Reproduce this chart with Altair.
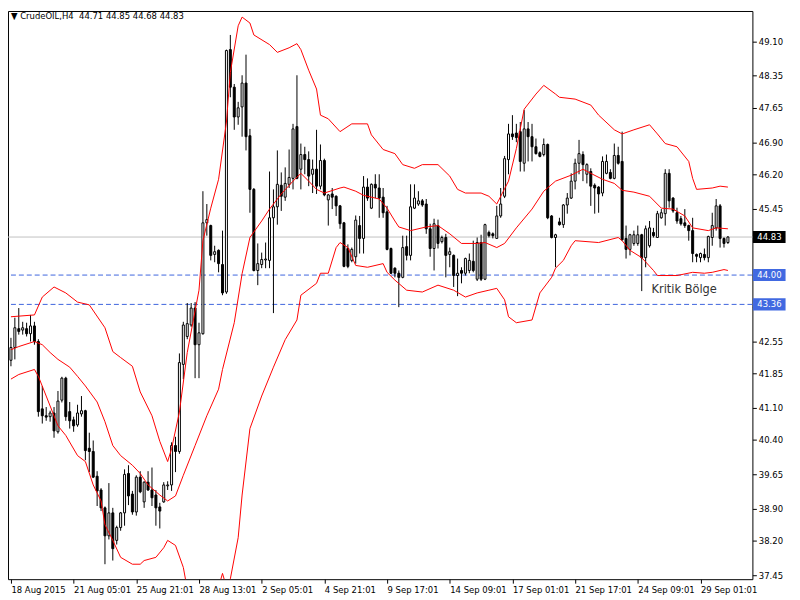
import altair as alt
import pandas as pd

# ---------------- data ----------------
opens = [42.14, 42.42, 42.83, 42.80, 42.83, 42.72, 42.89, 42.55, 41.08, 40.93,
         40.91, 40.99, 40.58, 41.27, 41.75, 41.02, 40.84, 40.73, 40.97, 41.04,
         40.22, 40.15, 39.61, 39.31, 38.92, 38.31, 38.81, 38.21, 38.49, 38.81,
         39.67, 39.22, 38.83, 39.59, 39.05, 39.48, 39.31, 39.20, 38.94, 39.05,
         39.40, 39.42, 40.28, 40.15, 42.05, 42.66, 42.91, 43.28, 42.48, 42.72,
         45.14, 45.08, 44.45, 44.54, 44.23, 43.63, 48.92, 48.10, 47.45, 47.67,
         48.19, 47.04, 45.87, 44.10, 44.23, 44.33, 44.32, 45.25, 45.49, 45.96,
         45.70, 45.98, 46.11, 47.24, 46.31, 46.63, 46.52, 46.20, 46.31, 45.94,
         46.50, 45.64, 45.77, 45.72, 45.51, 45.14, 44.58, 44.32, 44.40, 45.08,
         44.80, 45.92, 45.46, 45.98, 45.90, 45.70, 45.38, 44.58, 44.15, 44.04,
         43.95, 44.62, 44.43, 45.46, 45.55, 45.62, 45.55, 45.01, 44.58, 45.08,
         44.73, 44.82, 44.45, 44.43, 43.99, 44.10, 44.04, 44.10, 44.30, 43.91,
         44.71, 43.91, 44.93, 44.90, 44.80, 45.29, 45.72, 46.52, 47.08, 47.10,
         47.13, 46.44, 47.19, 47.02, 46.80, 46.67, 46.63, 46.85, 45.29, 44.82,
         45.16, 45.10, 45.53, 45.68, 46.05, 46.44, 46.63, 46.20, 46.26, 45.96,
         45.92, 45.79, 46.22, 46.24, 46.11, 46.61, 46.48, 44.80, 44.56, 44.69,
         44.69, 44.88, 44.38, 44.64, 44.93, 44.82, 45.25, 45.34, 46.22, 45.68,
         45.36, 45.23, 45.14, 45.08, 44.97, 44.45, 44.38, 44.45, 44.38, 44.82,
         45.03, 45.51, 44.80, 44.71]
highs = [42.63, 43.07, 43.28, 42.98, 42.96, 43.13, 42.98, 42.60, 41.58, 41.12,
         41.04, 41.12, 41.47, 41.78, 41.78, 41.23, 40.91, 41.17, 41.36, 41.06,
         40.56, 40.39, 39.72, 39.35, 38.95, 39.46, 38.92, 38.53, 38.83, 39.76,
         39.85, 39.29, 39.63, 39.72, 39.50, 39.72, 39.80, 39.31, 39.03, 39.48,
         39.50, 40.35, 40.47, 42.29, 42.98, 43.39, 43.39, 43.41, 42.96, 45.83,
         45.55, 45.10, 44.64, 44.56, 44.97, 48.92, 49.24, 48.17, 47.78, 48.36,
         48.81, 47.19, 45.90, 44.69, 44.49, 44.71, 46.26, 45.87, 46.72, 46.24,
         46.35, 46.74, 47.30, 48.36, 46.87, 46.80, 46.70, 46.52, 47.17, 46.85,
         46.54, 45.77, 45.90, 45.74, 45.53, 45.16, 44.67, 44.60, 45.30, 45.29,
         46.16, 46.11, 46.00, 46.20, 46.20, 45.90, 45.51, 44.60, 44.17, 44.10,
         44.86, 44.86, 45.98, 45.98, 45.83, 45.66, 45.66, 45.12, 45.23, 45.21,
         44.86, 44.90, 44.60, 44.45, 44.36, 44.17, 44.38, 44.47, 44.75, 44.82,
         44.88, 45.12, 44.97, 44.93, 45.51, 45.90, 46.60, 47.30, 47.49, 47.30,
         47.34, 47.60, 47.34, 47.30, 46.98, 46.70, 46.98, 46.87, 45.31, 44.90,
         45.25, 45.55, 45.79, 46.22, 46.54, 46.95, 46.70, 46.44, 46.33, 46.00,
         45.94, 46.59, 46.63, 46.31, 46.87, 46.80, 47.13, 45.08, 44.90, 44.97,
         45.08, 44.90, 45.08, 45.18, 45.03, 45.40, 45.44, 46.31, 46.31, 45.70,
         45.47, 45.29, 45.44, 45.10, 45.25, 44.47, 44.49, 44.58, 44.86, 45.36,
         45.66, 45.55, 44.82, 44.85]
lows = [42.01, 42.16, 42.70, 42.70, 42.66, 42.55, 42.48, 40.91, 40.76, 40.82,
        40.80, 40.45, 40.54, 41.22, 40.82, 40.65, 40.58, 40.69, 40.91, 39.96,
        39.70, 39.57, 38.96, 38.85, 37.69, 38.23, 37.77, 38.12, 38.42, 38.53,
        38.98, 38.77, 38.75, 39.24, 38.92, 39.29, 38.96, 38.53, 38.47, 39.03,
        39.31, 39.29, 39.70, 40.10, 41.73, 42.60, 42.87, 41.75, 41.75, 42.70,
        44.86, 44.32, 44.28, 44.06, 43.56, 43.59, 47.88, 47.17, 47.28, 47.02,
        46.72, 45.36, 44.08, 43.78, 44.15, 44.15, 44.15, 43.17, 45.10, 45.40,
        45.62, 45.90, 45.87, 46.09, 45.87, 46.20, 45.94, 45.79, 45.77, 45.87,
        45.72, 45.08, 45.44, 45.29, 45.01, 44.17, 44.15, 44.28, 44.25, 44.47,
        44.47, 45.62, 45.44, 45.68, 45.25, 45.25, 44.54, 44.02, 43.95, 43.30,
        43.93, 44.32, 44.32, 45.44, 45.51, 45.49, 44.90, 44.40, 44.10, 44.58,
        44.69, 43.95, 44.17, 43.74, 43.54, 43.82, 43.99, 44.04, 44.06, 43.87,
        43.87, 43.89, 44.82, 44.80, 44.80, 45.25, 45.68, 46.20, 46.95, 46.90,
        46.26, 46.26, 46.48, 46.48, 46.63, 46.57, 46.59, 45.22, 44.80, 44.17,
        45.08, 45.03, 45.34, 45.66, 45.87, 46.20, 46.05, 46.00, 45.51, 45.34,
        45.36, 45.72, 46.20, 46.09, 46.09, 46.41, 44.75, 44.36, 44.43, 44.64,
        44.64, 43.65, 44.17, 44.60, 44.82, 44.82, 45.23, 45.08, 45.47, 45.36,
        45.12, 45.08, 45.03, 44.75, 44.28, 44.28, 44.28, 44.32, 44.28, 44.64,
        44.97, 44.60, 44.60, 44.68]
closes = [42.42, 42.85, 42.77, 42.85, 42.72, 42.89, 42.55, 41.02, 40.93, 40.90,
          40.99, 40.60, 41.25, 41.75, 40.91, 40.82, 40.71, 40.99, 41.04, 40.17,
          40.15, 39.59, 39.29, 38.92, 38.31, 38.81, 38.03, 38.49, 38.81, 39.65,
          39.18, 38.83, 39.59, 39.27, 39.48, 39.31, 39.14, 38.92, 38.85, 39.42,
          39.42, 40.28, 40.15, 42.09, 42.91, 42.94, 43.28, 42.48, 42.74, 45.14,
          45.21, 44.43, 44.51, 44.25, 43.61, 48.90, 48.10, 47.45, 47.65, 48.19,
          47.02, 45.87, 44.10, 44.25, 44.34, 44.35, 45.25, 45.49, 45.98, 45.72,
          46.00, 46.13, 47.19, 46.11, 46.63, 46.52, 46.16, 46.31, 45.94, 46.50,
          45.75, 45.75, 45.70, 45.51, 45.12, 44.19, 44.19, 44.56, 45.20, 44.80,
          45.92, 45.68, 45.98, 45.90, 45.68, 45.36, 44.56, 44.04, 44.04, 43.95,
          44.60, 44.43, 45.49, 45.68, 45.62, 45.53, 45.01, 44.58, 45.12, 44.69,
          44.82, 44.43, 44.51, 43.99, 44.04, 44.04, 44.36, 44.32, 44.10, 44.71,
          43.91, 45.10, 44.86, 44.86, 45.29, 45.55, 46.54, 47.08, 47.02, 47.00,
          46.48, 47.19, 47.02, 46.80, 46.65, 46.59, 46.85, 45.25, 44.82, 44.88,
          45.10, 45.53, 45.68, 46.05, 46.44, 46.65, 46.41, 46.41, 45.94, 45.90,
          45.77, 46.48, 46.48, 46.11, 46.61, 46.44, 44.77, 44.56, 44.88, 44.88,
          44.88, 44.38, 45.01, 45.03, 44.86, 45.34, 45.36, 46.22, 45.62, 45.40,
          45.18, 45.12, 45.08, 44.97, 44.47, 44.41, 44.47, 44.38, 44.84, 45.08,
          45.51, 44.80, 44.69, 44.83]

upper_idx = [0, 6, 8, 11, 14, 17, 20, 24, 26, 28, 31, 33, 36, 38, 40, 41, 43, 45, 48, 49,
             51, 53, 55, 56, 58, 59, 61, 62, 66, 68, 71, 73, 74, 76, 78, 79, 81, 84, 87, 91,
             92, 95, 98, 100, 103, 105, 109, 112, 114, 116, 120, 122, 124, 127, 129, 131, 134, 136, 139, 140,
             144, 148, 150, 154, 156, 159, 163, 165, 167, 170, 173, 174, 175, 179, 181, 183]
upper_val = [43.09, 43.13, 43.52, 43.74, 43.61, 43.41, 43.35, 42.85, 42.33, 42.20,
             42.01, 41.45, 40.93, 40.37, 39.93, 40.21, 41.01, 42.31, 43.67, 44.75,
             45.46, 46.09, 47.34, 48.42, 49.44, 49.63, 49.50, 49.24, 49.03, 48.86,
             48.96, 49.05, 48.92, 48.47, 48.06, 47.49, 47.41, 47.13, 47.30, 47.30,
             47.06, 46.74, 46.65, 46.41, 46.33, 46.41, 46.41, 46.16, 45.87, 45.79,
             45.79, 45.72, 45.55, 46.05, 46.76, 47.62, 47.95, 48.14, 47.95, 47.88,
             47.84, 47.71, 47.49, 47.17, 47.08, 47.17, 47.28, 47.08, 46.87, 46.80,
             46.48, 46.11, 45.87, 45.90, 45.94, 45.92]

middle_idx = [0, 2, 6, 8, 10, 12, 15, 17, 19, 22, 24, 26, 28, 31, 33, 35, 38, 40, 42, 44,
              47, 50, 53, 54, 57, 59, 61, 64, 66, 69, 72, 74, 76, 78, 80, 84, 85, 88, 90, 94,
              96, 98, 99, 102, 106, 109, 112, 115, 119, 121, 124, 126, 129, 133, 136, 139, 143, 146, 148, 151,
              154, 156, 159, 163, 166, 169, 172, 174, 178, 180, 183]
middle_val = [42.37, 42.44, 42.55, 42.48, 42.31, 42.16, 41.99, 41.79, 41.58, 41.23,
              40.80, 40.28, 40.06, 39.85, 39.67, 39.42, 39.20, 39.07, 39.18, 39.63,
              40.28, 40.93, 41.51, 41.94, 42.96, 44.03, 44.82, 45.18, 45.44, 45.77,
              46.05, 46.22, 46.05, 45.87, 45.79, 45.90, 45.92, 45.83, 45.74, 45.66,
              45.46, 45.18, 45.05, 44.97, 45.05, 45.08, 44.90, 44.69, 44.69, 44.71,
              44.60, 44.69, 45.03, 45.44, 45.83, 46.05, 46.18, 46.31, 46.22, 46.09,
              46.00, 45.85, 45.81, 45.72, 45.46, 45.44, 45.29, 45.03, 44.97, 45.03,
              45.01]

lower_idx = [0, 2, 6, 7, 9, 12, 14, 17, 19, 21, 23, 24, 26, 28, 31, 33, 34, 37, 39, 40,
             42, 44, 45, 48, 51, 53, 54, 55, 56, 58, 59, 61, 64, 67, 70, 73, 74, 78, 79, 81,
             83, 84, 86, 88, 91, 95, 96, 98, 101, 105, 109, 113, 116, 119, 122, 124, 126, 127, 129, 133,
             135, 138, 139, 141, 143, 144, 150, 155, 156, 158, 161, 164, 165, 170, 174, 177, 179, 182, 183]
lower_val = [41.73, 41.83, 41.94, 41.79, 41.36, 40.71, 40.50, 40.06, 39.93, 39.42,
             39.07, 38.55, 38.21, 37.84, 37.69, 37.69, 37.77, 37.84, 38.05, 38.21,
             38.10, 37.62, 37.15, 36.65, 36.76, 37.19, 37.49, 37.19, 37.37, 38.27,
             39.20, 40.65, 41.36, 41.99, 42.59, 43.02, 43.56, 43.82, 44.04, 44.04,
             44.60, 44.71, 44.60, 44.21, 44.17, 44.25, 44.06, 43.89, 43.67, 43.63,
             43.78, 43.67, 43.52, 43.61, 43.67, 43.71, 43.46, 43.09, 42.96, 43.02,
             43.61, 43.95, 44.15, 44.32, 44.64, 44.75, 44.71, 44.82, 44.75, 44.54,
             44.38, 44.10, 43.99, 43.99, 44.06, 44.04, 44.06, 44.12, 44.10]

xtick_idx = [0, 16, 32, 48, 64, 80, 96, 112, 128, 144, 160, 176]
xtick_labels = ["18 Aug 2015", "21 Aug 05:01", "25 Aug 21:01", "28 Aug 13:01",
                "2 Sep 05:01", "4 Sep 21:01", "9 Sep 17:01", "14 Sep 09:01",
                "17 Sep 01:01", "21 Sep 17:01", "24 Sep 09:01", "29 Sep 01:01"]
ytick_vals = [49.85, 49.10, 48.35, 47.65, 46.90, 46.20, 45.45, 44.75, 44.00, 43.30,
              42.55, 41.85, 41.10, 40.40, 39.65, 38.90, 38.20, 37.45]
ytick_covered = [44.75, 44.00, 43.30]   # labels hidden under the price boxes

bid_price = [44.83]
level_prices = [44.00, 43.36]
title_text = "\u25BC CrudeOIL,H4\u00a0\u00a044.71 44.85 44.68 44.83"
zone_label = ["Kritik Bölge"]
zone_pos = [163.5]
zone_price = [43.67]

# ---------------- tables ----------------
n = len(opens)
candles = pd.DataFrame({"i": list(range(n)), "o": opens, "h": highs, "l": lows, "c": closes})
bands = pd.concat([
    pd.DataFrame({"band": "upper", "i": upper_idx, "v": upper_val}),
    pd.DataFrame({"band": "middle", "i": middle_idx, "v": middle_val}),
    pd.DataFrame({"band": "lower", "i": lower_idx, "v": lower_val}),
], ignore_index=True)
boxes = pd.DataFrame({
    "p": bid_price + level_prices,
    "lbl": ["%.2f" % v for v in bid_price + level_prices],
    "col": ["black", "#4169E1", "#4169E1"],
})

FONT = "DejaVu Sans Condensed"
W, H = 752, 574
xs = alt.Scale(domain=[-0.75, 189.25], nice=False, zero=False, padding=0)
ys = alt.Scale(domain=[37.363, 49.763], nice=False, zero=False, padding=0)

labels_js = "[" + ",".join("'%s'" % s for s in xtick_labels) + "]"
idx_js = "[" + ",".join(str(v) for v in xtick_idx) + "]"
cov_js = "[" + ",".join("%.2f" % v for v in ytick_covered) + "]"
xaxis = alt.Axis(values=xtick_idx, labelExpr=f"{labels_js}[indexof({idx_js}, datum.value)]",
                 orient="bottom", title=None, grid=False, domain=False, ticks=True,
                 tickSize=4, tickColor="black", labelAlign="left", labelBaseline="top",
                 labelPadding=1, labelFlush=False, labelOverlap=False, labelBound=False,
                 labelFont=FONT, labelFontSize=9.5, labelColor="black")
yaxis = alt.Axis(values=ytick_vals,
                 labelExpr=f"indexof({cov_js}, round(datum.value*100)/100) >= 0 ? '' : format(datum.value, '.2f')",
                 orient="right", title=None, grid=False,
                 domain=False, ticks=True, tickSize=4, tickColor="black", labelPadding=2,
                 labelFlush=False, labelOverlap=False, labelFont=FONT, labelFontSize=9.5,
                 labelColor="black", labelBaseline="middle", labelAlign="left")


def X(f):
    return alt.X(f, type="quantitative", scale=xs, axis=xaxis)


def Y(f):
    return alt.Y(f, type="quantitative", scale=ys, axis=yaxis)


bid_line = alt.Chart(pd.DataFrame({"p": bid_price})).mark_rule(
    color="#C0C0C0", strokeWidth=1).encode(y=Y("p"))
level_lines = alt.Chart(pd.DataFrame({"p": level_prices})).mark_rule(
    color="#3E64DE", strokeWidth=1, strokeDash=[5, 3]).encode(y=Y("p"))

wicks = alt.Chart(candles).mark_rule(color="black", strokeWidth=1).encode(
    x=X("i"), y=Y("l"), y2="h:Q")
bodies = alt.Chart(candles).mark_bar(size=2, stroke="black", strokeWidth=1).encode(
    x=X("i"), y=Y("o"), y2="c:Q",
    fill=alt.condition("datum.c >= datum.o", alt.value("white"), alt.value("black")))

band_lines = alt.Chart(bands).mark_line(color="#FF0000", strokeWidth=1, clip=True).encode(
    x=X("i"), y=Y("v"), detail="band:N")

title = alt.Chart(pd.DataFrame({"t": [title_text]})).mark_text(
    align="left", baseline="middle", font=FONT, fontSize=9.5, color="black").encode(
    x=alt.value(3), y=alt.value(5), text="t:N")

zone = alt.Chart(pd.DataFrame({"i": zone_pos, "p": zone_price, "t": zone_label})).mark_text(
    align="left", baseline="middle", font="DejaVu Sans", fontSize=11.5, color="#333333").encode(
    x=X("i"), y=Y("p"), text="t:N")

BOX = "M-1,-0.37L1,-0.37L1,0.37L-1,0.37Z"
box_marks = alt.Chart(boxes).mark_point(shape=BOX, size=1089, filled=True, opacity=1,
                                        strokeWidth=0).encode(
    x=alt.value(769), y=Y("p"), color=alt.Color("col:N", scale=None))
box_text = alt.Chart(boxes).mark_text(align="left", baseline="middle", font=FONT,
                                      fontSize=9.5, color="white").encode(
    x=alt.value(757), y=Y("p"), text="lbl:N")

chart = alt.layer(bid_line, level_lines, wicks, bodies, band_lines, title, zone,
                  box_marks, box_text).properties(
    width=W, height=H,
    autosize=alt.AutoSizeParams(type="none"),
    padding={"left": 0, "top": 0, "right": 40, "bottom": 18},
).configure_view(stroke="black", strokeWidth=1)

chart.save("out.html", embed_options={"renderer": "svg", "actions": False})
